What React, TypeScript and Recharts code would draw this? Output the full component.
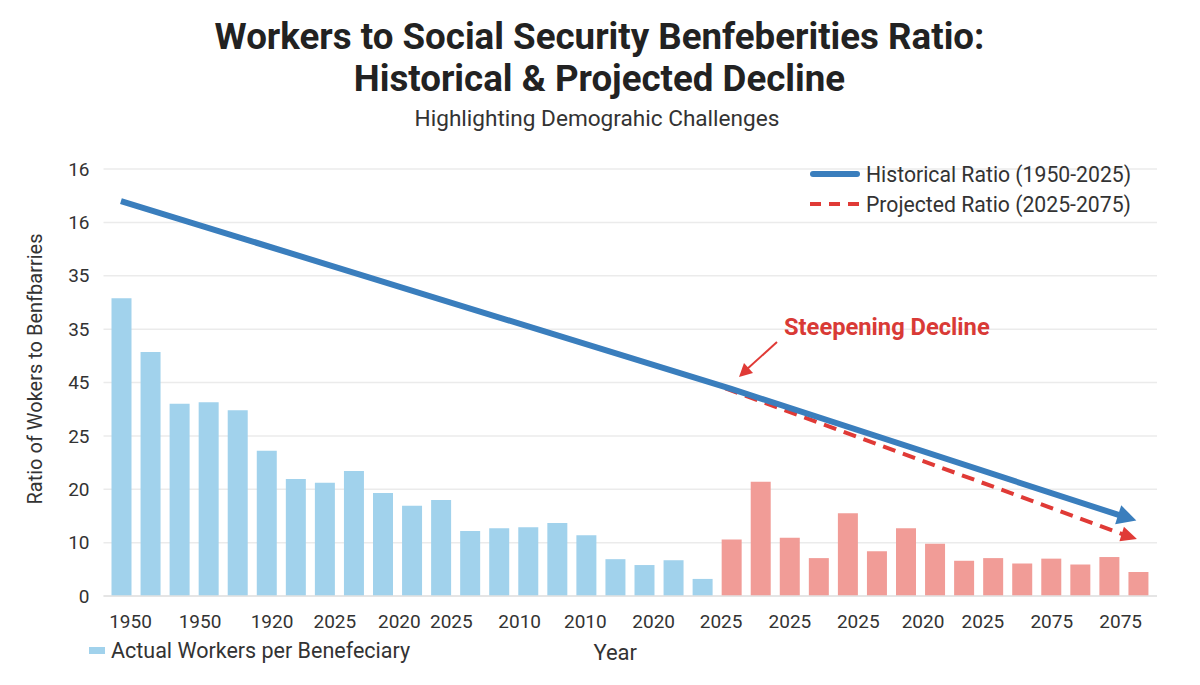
import { Bar, CartesianGrid, ComposedChart, Line, XAxis, YAxis } from 'recharts'

const FONT = 'Roboto, sans-serif'

const actualWorkers = [
  55.8, 45.7, 36, 36.3, 34.8, 27.2, 21.9, 21.2, 23.4, 19.3, 16.9, 18, 12.2, 12.7, 12.9, 13.7, 11.4, 6.9, 5.8, 6.7, 3.2,
]
const projectedWorkers = [10.6, 21.4, 10.9, 7.1, 15.5, 8.4, 12.7, 9.8, 6.6, 7.1, 6.1, 7, 5.9, 7.3, 4.5]

const historicalSlots = [0, 21, 34.38]
const historicalRatio = [74, 38.8, 15.1]
const projectedSlots = [20.8, 34.5]
const projectedRatio = [38.9, 11.5]

const yTicks = [0, 10, 20, 30, 40, 50, 60, 70, 80]
const yTickLabels = ['0', '10', '20', '25', '45', '35', '35', '16', '16']
const xTicks = [0.33, 2.72, 5.2, 7.36, 9.58, 11.37, 13.72, 15.98, 18.33, 20.65, 23.02, 25.37, 27.6, 29.66, 32.03, 34.4]
const xTickLabels = [
  '1950', '1950', '1920', '2025', '2020', '2025', '2010', '2010', '2020', '2025', '2025', '2025', '2020', '2025', '2075', '2075',
]

const rows = [
  ...actualWorkers.map((actual, i) => ({ slot: i, actual })),
  ...projectedWorkers.map((projected, i) => ({ slot: actualWorkers.length + i, projected })),
]
const historicalRows = historicalSlots.map((slot, i) => ({ slot, ratio: historicalRatio[i] }))
const projectedRows = projectedSlots.map((slot, i) => ({ slot, ratio: projectedRatio[i] }))

function arrowDot(lastIndex: number, color: string, length: number, halfWidth: number) {
  return (props: any) => {
    const { cx, cy, index } = props
    if (index !== lastIndex) return <g key={index} />
    return (
      <polygon
        key={index}
        points={`${-2},${-halfWidth} ${length},0 ${-2},${halfWidth}`}
        fill={color}
        transform={`translate(${cx} ${cy}) rotate(17.7)`}
      />
    )
  }
}

const textStyle = { position: 'absolute', whiteSpace: 'nowrap', color: '#333', fontSize: 21.2 } as const

export default function App() {
  return (
    <div style={{ position: 'absolute', left: 0, top: 0, width: 1200, height: 685, background: '#fff', fontFamily: FONT }}>
      <ComposedChart
        width={1200}
        height={685}
        data={rows}
        margin={{ top: 169, right: 43, bottom: 0, left: 0 }}
        style={{ fontFamily: FONT }}
      >
        <CartesianGrid vertical={false} stroke="#ebebeb" strokeWidth={1.5} />
        <XAxis xAxisId="bars" dataKey="slot" type="category" orientation="top" height={0} hide padding={{ left: 3, right: 4.5 }} />
        <XAxis
          xAxisId="main"
          dataKey="slot"
          type="number"
          domain={[-0.6, 35.65]}
          ticks={xTicks}
          interval={0}
          tickFormatter={(v) => xTickLabels[xTicks.indexOf(v)]}
          tickLine={false}
          axisLine={{ stroke: '#e2e2e2', strokeWidth: 1.5 }}
          tick={{ fill: '#333', fontSize: 19 }}
          tickMargin={13}
          height={89}
          allowDataOverflow
          label={{ value: 'Year', fill: '#333', fontSize: 22, position: 'insideBottom', dx: -15, dy: -20 }}
        />
        <YAxis
          type="number"
          domain={[0, 80]}
          ticks={yTicks}
          interval={0}
          tickFormatter={(v) => yTickLabels[yTicks.indexOf(v)]}
          tickLine={false}
          axisLine={false}
          tick={{ fill: '#333', fontSize: 19 }}
          tickMargin={8}
          width={103.5}
          label={{
            value: 'Ratio of Wokers to Benfbarries',
            angle: -90,
            fill: '#333',
            fontSize: 20,
            position: 'insideLeft',
            dx: 30,
            dy: 122,
          }}
        />
        <Bar xAxisId="bars" dataKey="actual" stackId="workers" fill="#a1d2ec" barSize={20} isAnimationActive={false} />
        <Bar xAxisId="bars" dataKey="projected" stackId="workers" fill="#f19c97" barSize={20} isAnimationActive={false} />
        <Line
          xAxisId="main"
          data={projectedRows}
          dataKey="ratio"
          stroke="#e03a36"
          strokeWidth={4}
          strokeDasharray="13 8"
          dot={arrowDot(projectedRows.length - 1, '#e03a36', 14, 7.5)}
          activeDot={false}
          isAnimationActive={false}
        />
        <Line
          xAxisId="main"
          data={historicalRows}
          dataKey="ratio"
          stroke="#3a7ebd"
          strokeWidth={6}
          dot={arrowDot(historicalRows.length - 1, '#3a7ebd', 17, 10)}
          activeDot={false}
          isAnimationActive={false}
        />
      </ComposedChart>

      <div style={{ position: 'absolute', left: 0, right: 1, top: 16, textAlign: 'center', color: '#222', fontSize: 36.7, fontWeight: 700, lineHeight: '42px' }}>
        Workers to Social Security Benfeberities Ratio:
        <br />
        Historical &amp; Projected Decline
      </div>
      <div style={{ position: 'absolute', left: 0, right: 6, top: 105, textAlign: 'center', color: '#333', fontSize: 22.6 }}>
        Highlighting Demograhic Challenges
      </div>

      <svg width={60} height={50} style={{ position: 'absolute', left: 805, top: 160 }}>
        <line x1={8} y1={14} x2={52} y2={14} stroke="#3a7ebd" strokeWidth={6} strokeLinecap="round" />
        <line x1={5} y1={44} x2={55} y2={44} stroke="#e03a36" strokeWidth={4} strokeDasharray="11 8" />
      </svg>
      <div style={{ ...textStyle, left: 866, top: 162 }}>Historical Ratio (1950-2025)</div>
      <div style={{ ...textStyle, left: 866, top: 192 }}>Projected Ratio (2025-2075)</div>

      <div style={{ position: 'absolute', left: 89, top: 647, width: 16, height: 7, background: '#a1d2ec' }} />
      <div style={{ ...textStyle, left: 111, top: 638, fontSize: 21.5 }}>Actual Workers per Benefeciary</div>

      <div style={{ ...textStyle, left: 784, top: 313, color: '#d93a36', fontSize: 23.7, fontWeight: 700 }}>Steepening Decline</div>
      <svg width={60} height={50} style={{ position: 'absolute', left: 730, top: 335 }}>
        <line x1={47} y1={7} x2={16} y2={35} stroke="#e03a36" strokeWidth={2} />
        <polygon points="9,42 14,28 23,38" fill="#e03a36" />
      </svg>
    </div>
  )
}
